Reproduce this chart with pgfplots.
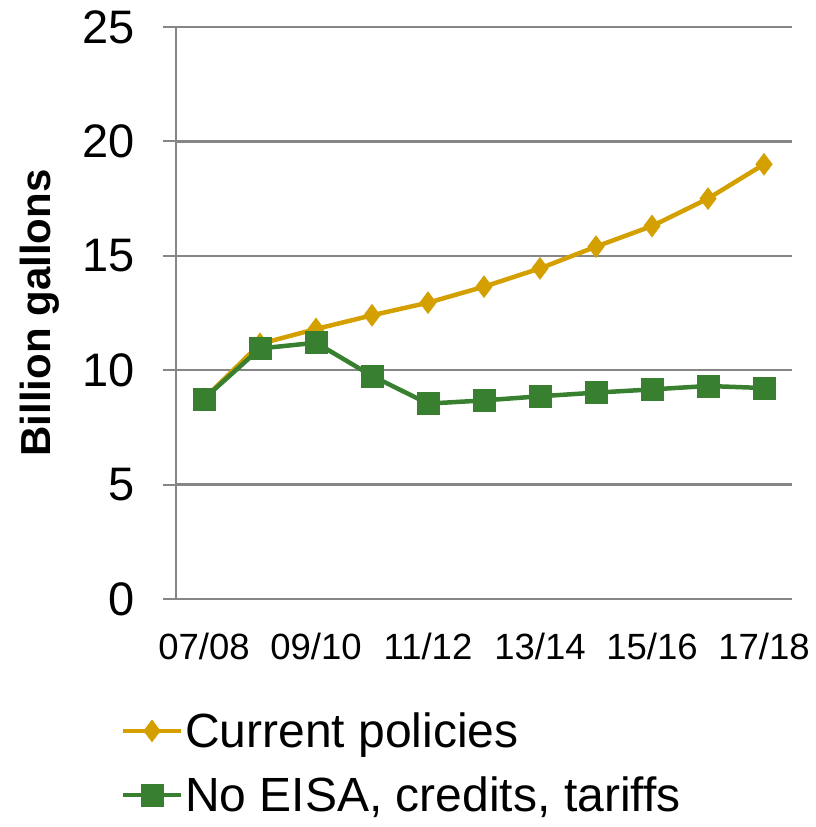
\documentclass[border=0pt]{standalone}
\usepackage{pgfplots}
\pgfplotsset{compat=1.18}
\usepackage{fontspec}
\setmainfont{Liberation Sans}
\definecolor{gridgray}{RGB}{134,134,134}
\definecolor{curgold}{RGB}{212,160,0}
\definecolor{noeisa}{RGB}{56,128,48}

\begin{document}
\begin{tikzpicture}
\useasboundingbox (-176pt,-228pt) rectangle (639pt,599pt);
\begin{axis}[
  scale only axis,
  width=616pt, height=572pt,
  xmin=-0.5, xmax=10.5,
  ymin=0, ymax=25,
  axis lines=left,
  axis line style={-, gridgray, line width=2.5pt},
  xtick={0,2,4,6,8,10},
  xticklabels={07/08,09/10,11/12,13/14,15/16,17/18},
  minor xtick={-0.5,0.5,...,10.5},
  ytick={0,5,...,25},
  ymajorgrids,
  major grid style={gridgray, line width=2.5pt},
  tick align=outside,
  x tick style={draw=none},
  minor x tick style={gridgray, line width=2pt},
  minor tick length=10pt,
  y tick style={gridgray, line width=2pt},
  major tick length=13pt,
  /pgf/number format/assume math mode=true,
  xticklabel style={font=\fontsize{36.5}{42}\selectfont, text=black, yshift=-18pt},
  yticklabel style={font=\fontsize{47}{56}\selectfont, text=black, xshift=-25pt},
  ylabel={Billion gallons},
  ylabel style={at={(axis description cs:-0.222,0.5)}, anchor=center,
    font=\bfseries\fontsize{42}{48}\selectfont},
  clip=false,
  legend style={at={(axis description cs:-0.09,-0.195)}, anchor=north west,
    draw=none, fill=none, inner sep=0pt, row sep=24pt,
    font=\fontsize{48}{54}\selectfont,
    nodes={inner sep=2pt}},
  legend cell align=left,
  legend image code/.code={\draw[#1, mark repeat=2, mark phase=2] plot coordinates {(0pt,0pt) (29pt,0pt) (58pt,0pt)};},
]
\addplot[curgold, line width=4.5pt, mark=diamond*, mark size=11pt,
  mark options={solid, fill=curgold, line width=0.5pt}]
  coordinates {(0,8.75) (1,11.15) (2,11.8) (3,12.4) (4,12.95) (5,13.65)
               (6,14.45) (7,15.4) (8,16.3) (9,17.5) (10,19.0)};
\addlegendentry{Current policies}
\addplot[noeisa, line width=4.5pt, mark=square*, mark size=11pt,
  mark options={solid, fill=noeisa, line width=0.5pt}]
  coordinates {(0,8.75) (1,10.95) (2,11.2) (3,9.75) (4,8.54) (5,8.68)
               (6,8.86) (7,9.02) (8,9.16) (9,9.31) (10,9.22)};
\addlegendentry{No EISA, credits, tariffs}
\end{axis}
\end{tikzpicture}
\end{document}
